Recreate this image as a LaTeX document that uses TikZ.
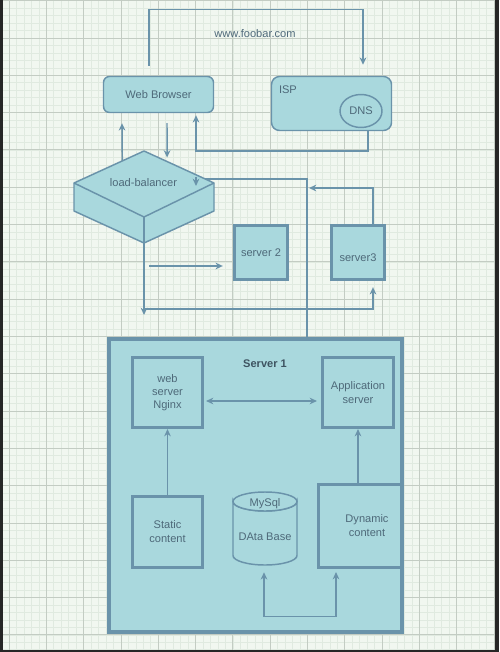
\documentclass[tikz,border=0pt]{standalone}
\usepackage{fontspec}
\setmainfont{Liberation Sans}
\usetikzlibrary{arrows.meta,shapes.geometric,calc}
\newdimen\px \px=0.75pt
\definecolor{cPaper}{HTML}{F1F7F0}
\definecolor{cGridFine}{HTML}{E0EAE0}
\definecolor{cGridMain}{HTML}{C3CCC3}
\definecolor{cFill}{HTML}{A9D8DD}
\definecolor{cLine}{HTML}{6A93AA}
\definecolor{cInk}{HTML}{4E6979}
\tikzset{
  finegrid/.style={cGridFine, line width=0.4pt},
  maingrid/.style={cGridMain, line width=0.6pt},
  txt/.style={font=\fontsize{8.3}{10.5}\selectfont, text=cInk, align=center, inner sep=0pt},
  box/.style={draw=cLine, fill=cFill, line width=1.1pt},
  srvbox/.style={box, txt, line width=2.3pt},
  conn/.style={draw=cLine, line width=1.1pt, -{Stealth[length=5.5pt,width=5pt]}},
  conn2/.style={draw=cLine, line width=1.1pt, {Stealth[length=5.5pt,width=5pt]}-{Stealth[length=5.5pt,width=5pt]}}
}
\begin{document}
\begin{tikzpicture}[x=0.75pt, y=-0.75pt]
			%%%%% PAPER %%%%%
			\useasboundingbox (0,0) rectangle (499,652);
			\fill[cPaper] (0,0) rectangle (499,652);
			\foreach \i in {0,...,66} \draw[finegrid] ({1.54+7.46*\i},0) -- ++(0,652);
			\foreach \i in {0,...,87} \draw[finegrid] (0,{0.7+7.46*\i}) -- ++(499,0);
			\foreach \i in {0,...,13} \draw[maingrid] ({9+37.3*\i},0) -- ++(0,652);
			\foreach \i in {0,...,17} \draw[maingrid] (0,{0.7+37.3*\i}) -- ++(499,0);
			\fill[black!85] (0,0) rectangle (2.5,652);
			\fill[black!85] (495,0) rectangle (499,652);
			\fill[black!85] (0,649.5) rectangle (499,652);
			
			%%%%% TOP %%%%%
			\node[txt] (url) at (255,34) {www.foobar.com};
			\node[box, txt, rounded corners=4.5pt, minimum width=110\px, minimum height=36\px] (browser) at (158.5,94.5) {Web Browser};
			\node[box, rounded corners=6pt, minimum width=120\px, minimum height=54\px] (isp) at (331.5,103.5) {};
			\node[txt, anchor=west] (isplbl) at ([shift={(8,14)}]isp.north west) {ISP};
			\node[box, txt, ellipse, minimum width=42\px, minimum height=33\px] (dns) at (361,111) {DNS};
			
			%%%%% SERVER 1 %%%%%
			\node[box, line width=3pt, minimum width=293\px, minimum height=293\px] (s1) at (255.5,485.5) {};
			\node[txt, font=\fontsize{8.3}{10}\selectfont\bfseries, text=cInk!80!black] (s1lbl) at (265,364) {Server 1};
			\node[srvbox, minimum width=70\px, minimum height=70\px, font=\fontsize{8.3}{10}\selectfont] (web) at (167.5,392.5) {web\\server\\Nginx};
			\node[srvbox, minimum width=71\px, minimum height=70\px] (app) at (358,392.5) {Application\\server};
			\node[srvbox, minimum width=70\px, minimum height=71\px] (static) at (167.5,532) {Static\\content};
			\node[srvbox, minimum width=83\px, minimum height=83\px,
			      label={[txt, xshift=7\px]center:{Dynamic\\content}}] (dyn) at (360,526) {};
			
			\draw[box] (233,501.5) -- (233,555.5) arc[start angle=180, end angle=0, x radius=32, y radius=9.5]
			      -- (297,501.5) arc[start angle=0, end angle=180, x radius=32, y radius=9.5] -- cycle;
			\draw[box] (265,501.5) ellipse [x radius=32, y radius=9.5];
			\node[inner sep=0pt, minimum width=64\px, minimum height=73\px] (db) at (265,528.5) {};
			\node[txt] (dbname) at (265,504) {MySql};
			\node[txt] (dbtxt) at (265,537) {DAta Base};
			
			\coordinate (s1top) at ([shift={(51.5,0)}]s1.north);
			\coordinate (lbhit) at (196,186);
			\coordinate (lbout) at (144,315);
			
			% runs behind the load balancer
			\draw[conn] (s1top) -- ++(0,-158) -| (lbhit);
			
			%%%%% LOAD BALANCER %%%%%
			\coordinate (lbT) at (144,151);
			\coordinate (lbR) at (214,183);
			\coordinate (lbF) at (144,217);
			\coordinate (lbL) at (74,183);
			\coordinate (lbRb) at (214,211);
			\coordinate (lbB) at (144,243);
			\coordinate (lbLb) at (74,211);
			\draw[box, line join=round] (lbT) -- (lbR) -- (lbRb) -- (lbB) -- (lbLb) -- (lbL) -- cycle;
			\draw[cLine, line width=1.1pt] (lbL) -- (lbF) -- (lbR);
			\draw[cLine, line width=1.1pt] (lbF) -- (lbB);
			\node[txt] (lb) at (143.5,183) {load-balancer};
			\draw[conn] ([shift={(0,-9)}]lbhit) -- (lbhit);
			
			\node[srvbox, line width=2.5pt, minimum width=53\px, minimum height=54\px] (srv2) at (261,252.5) {server 2};
			\node[srvbox, line width=2.5pt, minimum width=53\px, minimum height=54\px,
			      label={[txt, yshift=-5\px]center:server3}] (srv3) at (358,252.5) {};
			
			%%%%% LINKS %%%%%
			\draw[conn] ([shift={(-9.5,-10)}]browser.north) -- ++(0,-56) -| ([shift={(31.5,-11)}]isp.north);
			\draw[conn] ([shift={(36.5,0)}]isp.south) -- ++(0,20) -| ([shift={(37.5,2)}]browser.south);
			\draw[conn] ($(lbT)!0.31!(lbL)$) -- ([shift={(-36.5,10)}]browser.south);
			\draw[conn] ([shift={(8.5,10)}]browser.south) -- ($(lbT)!0.33!(lbR)+(0,-4)$);
			\draw[conn] (lbB) -- (lbout);
			\draw[conn] ([shift={(5,23)}]lbB) -- ([shift={(-10,13.5)}]srv2.west);
			\draw[conn] ([shift={(0,66)}]lbB) -| ([shift={(15,6)}]srv3.south);
			\draw[conn] ([shift={(15,0)}]srv3.north) |- ($(s1top)+(2,-149)$);
			
			\draw[conn2] ([shift={(2,8.5)}]web.east) -- ([shift={(-4,8.5)}]app.west);
			\draw[conn] (static) -- (web);
			\draw[conn] (dyn.north -| app.south) -- (app.south);
			\draw[conn2] ([shift={(-1,7)}]db.south) -- ++(0,44) -| ([shift={(-24,3)}]dyn.south);
			
			%%%%% END %%%%%
\end{tikzpicture}
\end{document}
